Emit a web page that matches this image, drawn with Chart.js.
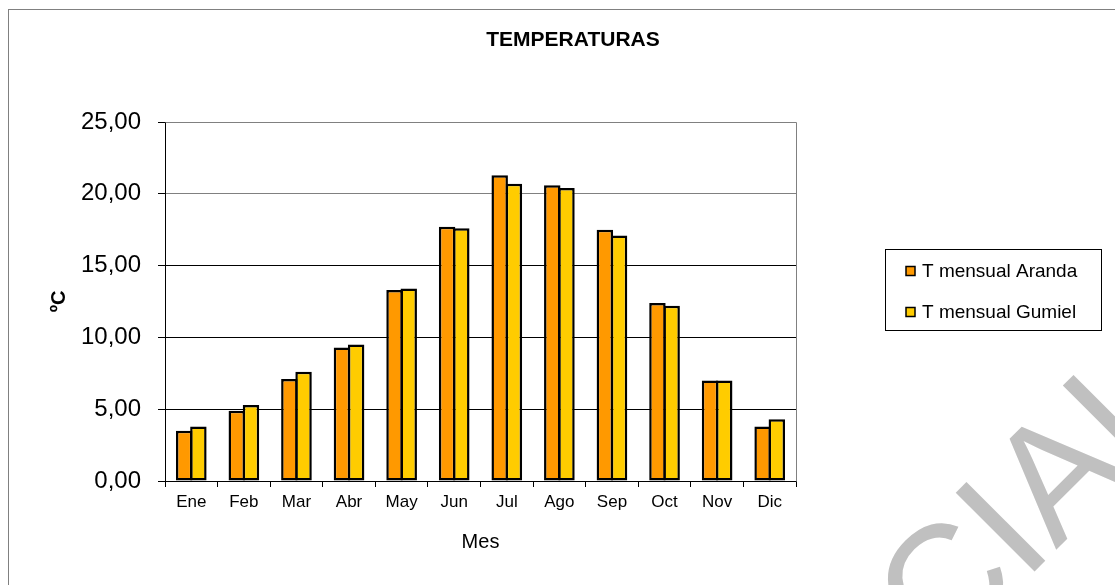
<!DOCTYPE html>
<html>
<head>
<meta charset="utf-8">
<script src="https://cdn.jsdelivr.net/npm/chart.js@4/dist/chart.umd.min.js"></script>
<style>
  html, body { margin: 0; padding: 0; background: #fff; }
  #wrap { width: 1115px; height: 585px; }
</style>
</head>
<body>
<div id="wrap"><canvas id="c" width="1115" height="585"></canvas></div>
<script>
// ---- data ----
const months = ['Ene','Feb','Mar','Abr','May','Jun','Jul','Ago','Sep','Oct','Nov','Dic'];
const arandaTemps = [3.5, 4.9, 7.1, 9.3, 13.3, 17.7, 21.3, 20.6, 17.5, 12.4, 7.0, 3.8];
const gumielTemps = [3.8, 5.3, 7.6, 9.5, 13.4, 17.6, 20.7, 20.4, 17.1, 12.2, 7.0, 4.3];
const seriesNames = ['T mensual Aranda', 'T mensual Gumiel'];
const seriesColors = ['#FF9900', '#FFCC00'];
const chartTitle = 'TEMPERATURAS';
const xTitle = 'Mes';
const yTitle = 'ºC';
const watermarkText = 'OFICIAL';

const FONT = '"Liberation Sans", Arial, sans-serif';
Chart.defaults.font.family = FONT;
Chart.defaults.color = '#000';

const decor = {
  id: 'decor',
  afterDraw(chart) {
    const ctx = chart.ctx;
    const a = chart.chartArea;
    ctx.save();
    // plot area top/right border (gray)
    ctx.strokeStyle = '#808080';
    ctx.lineWidth = 1;
    ctx.beginPath();
    ctx.moveTo(Math.round(a.left) + 0.5, Math.round(a.top) + 0.5);
    ctx.lineTo(Math.round(a.right) + 0.5, Math.round(a.top) + 0.5);
    ctx.lineTo(Math.round(a.right) + 0.5, Math.round(a.bottom) + 0.5);
    ctx.stroke();

    // outer chart border
    ctx.strokeStyle = '#808080';
    ctx.strokeRect(8.5, 9.5, 1300, 800);

    // title
    ctx.fillStyle = '#000';
    ctx.textAlign = 'center';
    ctx.textBaseline = 'middle';
    ctx.font = 'bold 21px ' + FONT;
    ctx.fillText(chartTitle, 573, 40);

    // x title
    ctx.font = '20px ' + FONT;
    ctx.fillText(xTitle, (a.left + a.right) / 2, 542);

    // y title
    ctx.save();
    ctx.translate(59, (a.top + a.bottom) / 2);
    ctx.rotate(-Math.PI / 2);
    ctx.font = 'bold 20px ' + FONT;
    ctx.fillText(yTitle, 0, 0);
    ctx.restore();

    // legend
    ctx.strokeStyle = '#000';
    ctx.lineWidth = 1;
    ctx.strokeRect(885.5, 249.5, 216, 81);
    ctx.font = '19px ' + FONT;
    ctx.textAlign = 'left';
    const rows = [271, 312];
    chart.data.datasets.forEach((ds, i) => {
      const cy = rows[i];
      ctx.fillStyle = ds.backgroundColor;
      ctx.fillRect(906, cy - 4.5, 9, 9);
      ctx.strokeStyle = '#000';
      ctx.lineWidth = 1.5;
      ctx.strokeRect(906, cy - 4.5, 9, 9);
      ctx.fillStyle = '#000';
      ctx.fillText(ds.label, 922, cy + 1);
    });

    // watermark
    ctx.font = '162px ' + FONT;
    ctx.fillStyle = '#C0C0C0';
    const w1 = ctx.measureText('OFIC').width;
    const wI = ctx.measureText('I').width;
    ctx.translate(1040, 566);
    ctx.rotate(-Math.PI / 4);
    ctx.textAlign = 'left';
    ctx.textBaseline = 'alphabetic';
    ctx.fillText(watermarkText, -(w1 + wI / 2), 0);
    ctx.restore();
  }
};

new Chart(document.getElementById('c'), {
  type: 'bar',
  data: {
    labels: months,
    datasets: [
      { label: seriesNames[0], data: arandaTemps, backgroundColor: seriesColors[0] },
      { label: seriesNames[1], data: gumielTemps, backgroundColor: seriesColors[1] }
    ].map(d => Object.assign(d, {
      borderColor: '#000', borderWidth: 2.5, borderSkipped: false,
      categoryPercentage: 0.54, barPercentage: 1.16
    }))
  },
  options: {
    responsive: false,
    animation: false,
    events: [],
    layout: { padding: { left: 0, top: 122, right: 319, bottom: 64 } },
    plugins: { legend: { display: false }, title: { display: false }, tooltip: { enabled: false } },
    scales: {
      x: {
        afterFit: (s) => { s.height = 40; },
        grid: { drawOnChartArea: false, drawTicks: true, tickLength: 6, color: '#000', offset: true },
        border: { color: '#000', width: 1 },
        ticks: { font: { size: 17 }, color: '#000', padding: 5, maxRotation: 0, autoSkip: false }
      },
      y: {
        min: 0, max: 25,
        afterFit: (s) => { s.width = 165; },
        grid: {
          drawOnChartArea: true, tickLength: 7,
          color: (c) => (c.tick && c.tick.value >= 20) ? '#808080' : '#000',
          tickColor: '#000'
        },
        border: { color: '#000', width: 1 },
        ticks: {
          stepSize: 5, font: { size: 24 }, color: '#000', padding: 17,
          callback: (v) => v.toFixed(2).replace('.', ',')
        }
      }
    }
  },
  plugins: [decor]
});
</script>
</body>
</html>
